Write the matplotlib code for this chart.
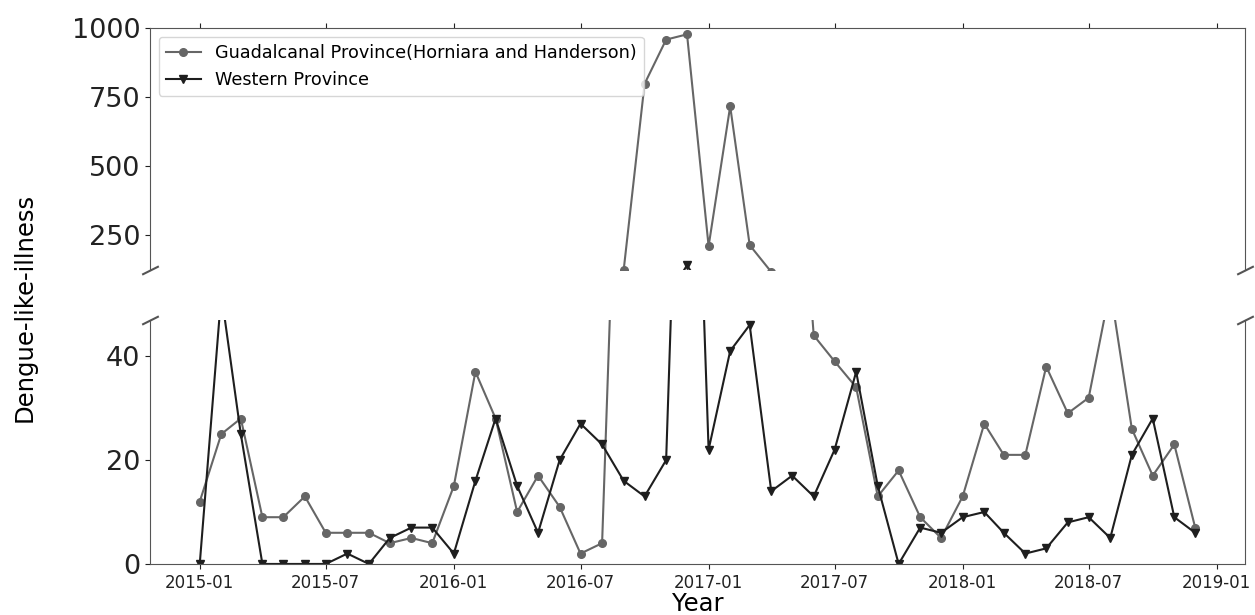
import numpy as np
import pandas as pd
import matplotlib
matplotlib.use("Agg")
import matplotlib.pyplot as plt
import matplotlib.dates as mdates

# monthly dengue-like-illness counts, 2015-01 .. 2018-12
months = pd.date_range("2015-01-01", "2018-12-01", freq="MS")

guadalcanal = [12, 25, 28, 9, 9, 13, 6, 6, 6, 4, 5, 4,
               15, 37, 28, 10, 17, 11, 2, 4, 125, 798, 958, 977,
               211, 717, 215, 118, 100, 44, 39, 34, 13, 18, 9, 5,
               13, 27, 21, 21, 38, 29, 32, 53, 26, 17, 23, 7]

western = [0, 52, 25, 0, 0, 0, 0, 2, 0, 5, 7, 7,
           2, 16, 28, 15, 6, 20, 27, 23, 16, 13, 20, 142,
           22, 41, 46, 14, 17, 13, 22, 37, 15, 0, 7, 6,
           9, 10, 6, 2, 3, 8, 9, 5, 21, 28, 9, 6]

labels = ["Guadalcanal Province(Horniara and Handerson)", "Western Province"]

c_g = "#666666"
c_w = "#1e1e1e"
spine_c = "#555555"

fig = plt.figure(figsize=(12.55, 6.15), dpi=100)
ax1 = fig.add_axes([0.1195, 0.561, 0.8725, 0.3935])
ax2 = fig.add_axes([0.1195, 0.083, 0.8725, 0.397], sharex=ax1)

for ax in (ax1, ax2):
    ax.plot(months, guadalcanal, color=c_g, marker="o", markersize=5.5, lw=1.5, label=labels[0])
    ax.plot(months, western, color=c_w, marker="v", markersize=5.5, lw=1.5, label=labels[1])
    for s in ax.spines.values():
        s.set_color(spine_c)
    ax.tick_params(colors="#222222", axis="y", labelsize=19.5)
    ax.tick_params(axis="x", labelsize=12, colors="#222222")

ax1.set_ylim(125, 1000)
ax2.set_ylim(0, 47)
ax1.set_yticks([250, 500, 750, 1000])
ax2.set_yticks([0, 20, 40])

ax1.spines["bottom"].set_visible(False)
ax2.spines["top"].set_visible(False)
ax1.xaxis.tick_top()
ax1.tick_params(labeltop=False)
ax2.xaxis.tick_bottom()

ax2.xaxis.set_major_locator(mdates.MonthLocator(bymonth=[1, 7]))
ax2.xaxis.set_major_formatter(mdates.DateFormatter("%Y-%m"))

# break marks
d = 0.5
kw = dict(marker=[(-1, -d), (1, d)], markersize=12, linestyle="none",
          color=spine_c, mec=spine_c, mew=1.5, clip_on=False)
ax1.plot([0, 1], [0, 0], transform=ax1.transAxes, **kw)
ax2.plot([0, 1], [1, 1], transform=ax2.transAxes, **kw)

ax1.legend(loc="upper left", fontsize=12.7, frameon=True)

ax2.set_xlabel("Year", fontsize=17.5, labelpad=0)
fig.text(0.02, 0.5, "Dengue-like-illness", rotation=90, va="center", ha="center", fontsize=17.5)

fig.savefig("out.png", dpi=100)
